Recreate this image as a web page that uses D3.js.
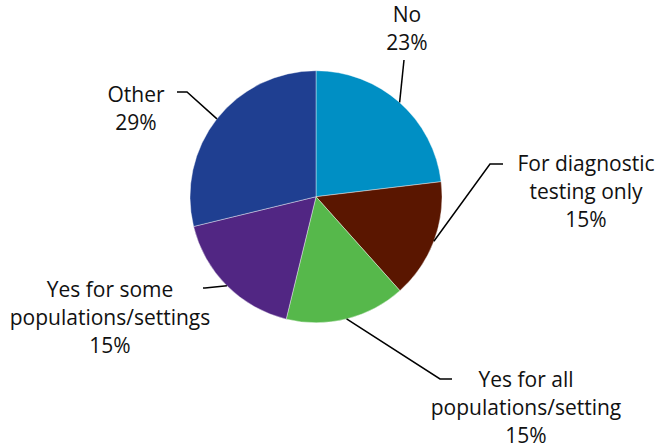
<!DOCTYPE html>
<html><head><meta charset="utf-8">
<script src="https://cdn.jsdelivr.net/npm/d3@7"></script>
<style>html,body{margin:0;padding:0;background:#fff;}svg{display:block;}</style>
</head><body>
<svg id="chart" width="658" height="447"></svg>
<script>
const categories = ["No", "For diagnostic testing only", "Yes for all populations/setting", "Yes for some populations/settings", "Other"];
const values = [23.1, 15.3, 15.4, 17.4, 28.8];
const pctLabels = ["23%", "15%", "15%", "15%", "29%"];
const labelLines = [["No"], ["For diagnostic", "testing only"], ["Yes for all", "populations/setting"], ["Yes for some", "populations/settings"], ["Other"]];
const colors = ["#008fc4", "#5a1600", "#56b84b", "#512683", "#1f3f91"];

const svg = d3.select("#chart");
const cx = 316, cy = 196.7, r = 126;
const g = svg.append("g").attr("transform", `translate(${cx},${cy})`);
const pie = d3.pie().sort(null).value(d => d)(values);
const arc = d3.arc().innerRadius(0).outerRadius(r);
g.selectAll("path.slice").data(pie).join("path")
  .attr("class", "slice").attr("d", arc)
  .attr("fill", (d, i) => colors[i])
  .attr("stroke", "#ffffff").attr("stroke-width", 0.4);

// label layout (absolute positions)
const layout = [
  {elbow: [[404, 60]], text: [407, 22]},
  {elbow: [[490, 164], [503, 164]], text: [586, 171]},
  {elbow: [[440, 379], [452, 379]], text: [526, 387]},
  {elbow: [[205, 288], [203, 288]], text: [110, 297]},
  {elbow: [[187, 92], [177, 92]], text: [136, 102]}
];
const lh = 28;
pie.forEach((d, i) => {
  const a = (d.startAngle + d.endAngle) / 2;
  const p0 = [cx + r * Math.sin(a), cy - r * Math.cos(a)];
  const pts = [p0].concat(layout[i].elbow);
  svg.append("path").attr("d", d3.line()(pts))
    .attr("fill", "none").attr("stroke", "#000").attr("stroke-width", 1.5);
  const lines = labelLines[i].concat([pctLabels[i]]);
  const t = svg.append("text").attr("text-anchor", "middle")
    .attr("font-family", "'Open Sans', sans-serif").attr("font-size", 21).attr("fill", "#111");
  lines.forEach((s, j) => {
    t.append("tspan").attr("x", layout[i].text[0]).attr("y", layout[i].text[1] + j * lh).text(s);
  });
});
</script>
</body></html>
